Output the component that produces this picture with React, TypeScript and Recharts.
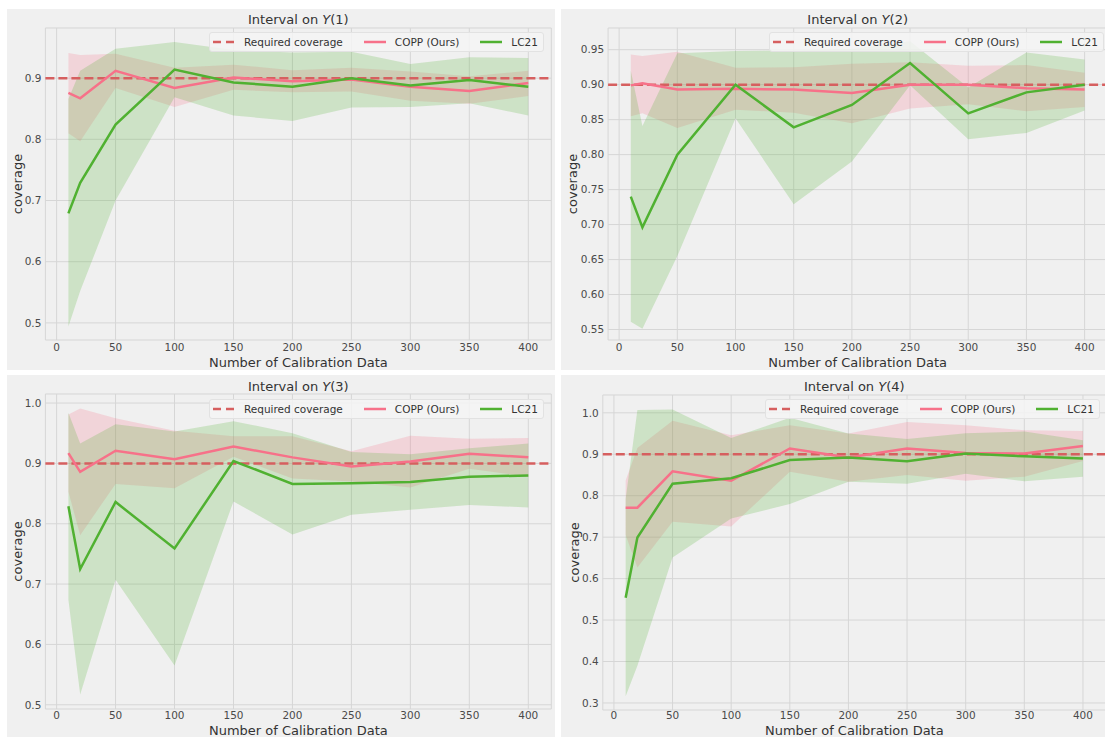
import React from 'react';
import {
  ComposedChart,
  Line,
  Area,
  XAxis,
  YAxis,
  CartesianGrid,
  ReferenceLine,
  Legend,
} from 'recharts';

// ---------- data ----------
const calibrationSizes = [10, 20, 50, 100, 150, 200, 250, 300, 350, 400];
const xTicks = [0, 50, 100, 150, 200, 250, 300, 350, 400];
const requiredCoverage = 0.9;

const panelTitles = ['1', '2', '3', '4'];
const legendLabels = ['Required coverage', 'COPP (Ours)', 'LC21'];
const xAxisTitle = 'Number of Calibration Data';
const yAxisTitle = 'coverage';

// Interval on Y(1)
const coppMeanY1 = [0.876, 0.867, 0.912, 0.884, 0.901, 0.895, 0.898, 0.886, 0.879, 0.892];
const coppLowY1 = [0.81, 0.797, 0.884, 0.853, 0.881, 0.877, 0.878, 0.863, 0.858, 0.871];
const coppHighY1 = [0.941, 0.938, 0.94, 0.917, 0.922, 0.913, 0.917, 0.911, 0.903, 0.912];
const lcMeanY1 = [0.679, 0.729, 0.824, 0.914, 0.893, 0.886, 0.9, 0.888, 0.897, 0.886];
const lcLowY1 = [0.494, 0.552, 0.7, 0.869, 0.839, 0.83, 0.852, 0.853, 0.859, 0.839];
const lcHighY1 = [0.866, 0.912, 0.948, 0.959, 0.946, 0.942, 0.943, 0.923, 0.934, 0.933];
const yTicksY1 = [0.5, 0.6, 0.7, 0.8, 0.9];

// Interval on Y(2)
const coppMeanY2 = [0.899, 0.902, 0.893, 0.894, 0.893, 0.888, 0.9, 0.9, 0.895, 0.893];
const coppLowY2 = [0.855, 0.859, 0.838, 0.864, 0.86, 0.845, 0.866, 0.872, 0.862, 0.868];
const coppHighY2 = [0.943, 0.941, 0.947, 0.924, 0.925, 0.93, 0.932, 0.927, 0.928, 0.917];
const lcMeanY2 = [0.74, 0.696, 0.8, 0.9, 0.839, 0.871, 0.931, 0.859, 0.889, 0.9];
const lcLowY2 = [0.561, 0.551, 0.655, 0.852, 0.729, 0.79, 0.899, 0.822, 0.831, 0.863];
const lcHighY2 = [0.92, 0.841, 0.945, 0.948, 0.949, 0.951, 0.962, 0.896, 0.946, 0.936];
const yTicksY2 = [0.55, 0.6, 0.65, 0.7, 0.75, 0.8, 0.85, 0.9, 0.95];

// Interval on Y(3)
const coppMeanY3 = [0.917, 0.886, 0.921, 0.907, 0.928, 0.91, 0.895, 0.903, 0.916, 0.91];
const coppLowY3 = [0.853, 0.781, 0.866, 0.859, 0.911, 0.875, 0.87, 0.86, 0.891, 0.878];
const coppHighY3 = [0.981, 0.991, 0.975, 0.954, 0.945, 0.945, 0.92, 0.946, 0.941, 0.942];
const lcMeanY3 = [0.829, 0.725, 0.836, 0.759, 0.904, 0.866, 0.867, 0.869, 0.878, 0.88];
const lcLowY3 = [0.674, 0.517, 0.707, 0.565, 0.837, 0.782, 0.815, 0.823, 0.831, 0.827];
const lcHighY3 = [0.984, 0.933, 0.965, 0.953, 0.97, 0.95, 0.919, 0.915, 0.925, 0.933];
const yTicksY3 = [0.5, 0.6, 0.7, 0.8, 0.9, 1.0];

// Interval on Y(4)
const coppMeanY4 = [0.771, 0.771, 0.859, 0.836, 0.914, 0.892, 0.914, 0.903, 0.902, 0.92];
const coppLowY4 = [0.705, 0.627, 0.737, 0.726, 0.858, 0.834, 0.85, 0.836, 0.846, 0.884];
const coppHighY4 = [0.837, 0.915, 0.981, 0.946, 0.97, 0.95, 0.978, 0.97, 0.958, 0.956];
const lcMeanY4 = [0.554, 0.699, 0.829, 0.842, 0.886, 0.892, 0.883, 0.902, 0.895, 0.89];
const lcLowY4 = [0.316, 0.39, 0.651, 0.745, 0.78, 0.834, 0.829, 0.853, 0.835, 0.846];
const lcHighY4 = [0.792, 1.007, 1.008, 0.939, 0.988, 0.95, 0.937, 0.951, 0.955, 0.934];
const yTicksY4 = [0.3, 0.4, 0.5, 0.6, 0.7, 0.8, 0.9, 1.0];

// ---------- style ----------
const FONT = '"DejaVu Sans", sans-serif';
const BG = '#f0f0f0';
const GRID = '#d6d6d6';
const COPP_COLOR = '#f77189';
const LC_COLOR = '#50b131';
const REQ_COLOR = '#d65f5f';
const TICK_COLOR = '#4a4a4a';
const LABEL_COLOR = '#333333';

type Geom = {
  panel: { left: number; top: number; width: number; height: number };
  plot: { left: number; right: number; top: number; bottom: number };
  domain: [number, number];
  decimals: number;
  legend: { left: number; top: number };
  titleY: number;
  yLabelX: number;
  xLabelOffset: number;
  xTickMargin: number;
};

const geoms: Geom[] = [
  {
    panel: { left: 7, top: 9, width: 548, height: 361 },
    plot: { left: 45.4, right: 551.3, top: 28, bottom: 340 },
    domain: [0.472, 0.982],
    decimals: 1,
    legend: { left: 209, top: 32 },
    titleY: 20,
    yLabelX: 10.7,
    xLabelOffset: 3,
    xTickMargin: 4,
  },
  {
    panel: { left: 561, top: 9, width: 544, height: 361 },
    plot: { left: 608.1, right: 1107.3, top: 28, bottom: 340 },
    domain: [0.535, 0.981],
    decimals: 2,
    legend: { left: 769, top: 32 },
    titleY: 20,
    yLabelX: 11.5,
    xLabelOffset: 3,
    xTickMargin: 4,
  },
  {
    panel: { left: 7, top: 375, width: 548, height: 362 },
    plot: { left: 45.4, right: 551.3, top: 394, bottom: 709 },
    domain: [0.493, 1.015],
    decimals: 1,
    legend: { left: 209, top: 399 },
    titleY: 386.5,
    yLabelX: 10,
    xLabelOffset: 1.5,
    xTickMargin: 2.5,
  },
  {
    panel: { left: 561, top: 375, width: 544, height: 362 },
    plot: { left: 602.8, right: 1105.8, top: 395, bottom: 710 },
    domain: [0.283, 1.043],
    decimals: 1,
    legend: { left: 765, top: 399 },
    titleY: 386.5,
    yLabelX: 13.3,
    xLabelOffset: 1.5,
    xTickMargin: 2,
  },
];

const seriesSets = [
  { cm: coppMeanY1, cl: coppLowY1, ch: coppHighY1, lm: lcMeanY1, ll: lcLowY1, lh: lcHighY1, ticks: yTicksY1 },
  { cm: coppMeanY2, cl: coppLowY2, ch: coppHighY2, lm: lcMeanY2, ll: lcLowY2, lh: lcHighY2, ticks: yTicksY2 },
  { cm: coppMeanY3, cl: coppLowY3, ch: coppHighY3, lm: lcMeanY3, ll: lcLowY3, lh: lcHighY3, ticks: yTicksY3 },
  { cm: coppMeanY4, cl: coppLowY4, ch: coppHighY4, lm: lcMeanY4, ll: lcLowY4, lh: lcHighY4, ticks: yTicksY4 },
];

const LegendBox = () => (
  <div
    style={{
      display: 'flex',
      alignItems: 'center',
      height: 20,
      boxSizing: 'border-box',
      padding: '0 5px 0 3px',
      background: 'rgba(245,245,245,0.85)',
      border: '1px solid #e2e2e2',
      borderRadius: 3,
      fontFamily: FONT,
      fontSize: 10.5,
      color: LABEL_COLOR,
      whiteSpace: 'nowrap',
    }}
  >
    <svg width={22} height={10} style={{ display: 'block' }}>
      <line x1={0} y1={5} x2={22} y2={5} stroke={REQ_COLOR} strokeWidth={2.5} strokeDasharray="8 5" />
    </svg>
    <span style={{ marginLeft: 9 }}>{legendLabels[0]}</span>
    <svg width={22} height={10} style={{ display: 'block', marginLeft: 21 }}>
      <line x1={0} y1={5} x2={22} y2={5} stroke={COPP_COLOR} strokeWidth={2.5} />
    </svg>
    <span style={{ marginLeft: 9 }}>{legendLabels[1]}</span>
    <svg width={22} height={10} style={{ display: 'block', marginLeft: 21 }}>
      <line x1={0} y1={5} x2={22} y2={5} stroke={LC_COLOR} strokeWidth={2.5} />
    </svg>
    <span style={{ marginLeft: 9 }}>{legendLabels[2]}</span>
  </div>
);

const Panel = ({ idx }: { idx: number }) => {
  const g = geoms[idx];
  const s = seriesSets[idx];
  const data = calibrationSizes.map((x, i) => ({
    x,
    copp: s.cm[i],
    coppBand: [s.cl[i], s.ch[i]],
    lc: s.lm[i],
    lcBand: [s.ll[i], s.lh[i]],
  }));
  const { panel, plot } = g;
  const yAxisWidth = plot.left - panel.left;
  const marginTop = plot.top - panel.top;
  const xAxisHeight = panel.height - (plot.bottom - panel.top);
  const chartWidth = plot.right - panel.left + 2;
  const centerX = (plot.left + plot.right) / 2 - panel.left;

  return (
    <div
      style={{
        position: 'absolute',
        left: panel.left,
        top: panel.top,
        width: panel.width,
        height: panel.height,
        background: BG,
        overflow: 'hidden',
      }}
    >
      <div
        style={{
          position: 'absolute',
          left: centerX - 150,
          top: g.titleY - panel.top - 8,
          width: 300,
          height: 16,
          lineHeight: '16px',
          textAlign: 'center',
          fontFamily: FONT,
          fontSize: 13,
          color: LABEL_COLOR,
          zIndex: 2,
        }}
      >
        Interval on <span style={{ fontStyle: 'italic' }}>Y</span>({panelTitles[idx]})
      </div>
      <ComposedChart
        width={chartWidth}
        height={panel.height}
        data={data}
        margin={{ top: marginTop, right: 2, bottom: 0, left: 0 }}
        style={{ fontFamily: FONT }}
      >
        <CartesianGrid stroke={GRID} strokeWidth={1} />
        <XAxis
          dataKey="x"
          type="number"
          domain={[-9.5, 419.5]}
          allowDataOverflow
          ticks={xTicks}
          height={xAxisHeight}
          axisLine={false}
          tickLine={false}
          tickSize={0}
          tickMargin={g.xTickMargin}
          tick={{ fontSize: 10.5, fill: TICK_COLOR, fontFamily: FONT }}
          label={{
            value: xAxisTitle,
            position: 'insideBottom',
            offset: g.xLabelOffset,
            style: { fontSize: 13, fill: LABEL_COLOR, fontFamily: FONT },
          }}
        />
        <YAxis
          type="number"
          domain={g.domain}
          allowDataOverflow
          ticks={s.ticks}
          width={yAxisWidth}
          axisLine={false}
          tickLine={false}
          tickSize={0}
          tickMargin={4}
          tickFormatter={(v: number) => v.toFixed(g.decimals)}
          tick={{ fontSize: 10.5, fill: TICK_COLOR, fontFamily: FONT }}
          label={{
            value: yAxisTitle,
            angle: -90,
            position: 'insideLeft',
            offset: g.yLabelX,
            style: { fontSize: 13, fill: LABEL_COLOR, fontFamily: FONT, textAnchor: 'middle' },
          }}
        />
        <Area
          type="linear"
          dataKey="coppBand"
          stroke="none"
          fill={COPP_COLOR}
          fillOpacity={0.22}
          isAnimationActive={false}
          dot={false}
          activeDot={false}
          legendType="none"
        />
        <Area
          type="linear"
          dataKey="lcBand"
          stroke="none"
          fill={LC_COLOR}
          fillOpacity={0.22}
          isAnimationActive={false}
          dot={false}
          activeDot={false}
          legendType="none"
        />
        <ReferenceLine
          y={requiredCoverage}
          stroke={REQ_COLOR}
          strokeWidth={2.5}
          strokeDasharray="9 4"
        />
        <Line
          type="linear"
          dataKey="copp"
          stroke={COPP_COLOR}
          strokeWidth={2.5}
          dot={false}
          activeDot={false}
          isAnimationActive={false}
        />
        <Line
          type="linear"
          dataKey="lc"
          stroke={LC_COLOR}
          strokeWidth={2.5}
          dot={false}
          activeDot={false}
          isAnimationActive={false}
        />
        <Legend
          layout="horizontal"
          align="center"
          verticalAlign="middle"
          content={() => <LegendBox />}
          wrapperStyle={{
            left: g.legend.left - panel.left,
            top: g.legend.top - panel.top,
            width: 'auto',
            height: 'auto',
          }}
        />
      </ComposedChart>
    </div>
  );
}

export default function App() {
  return (
    <div
      style={{
        position: 'absolute',
        left: 0,
        top: 0,
        width: 1105,
        height: 737,
        background: '#ffffff',
        overflow: 'hidden',
      }}
    >
      {[0, 1, 2, 3].map((i) => (
        <Panel key={i} idx={i} />
      ))}
    </div>
  );
}
